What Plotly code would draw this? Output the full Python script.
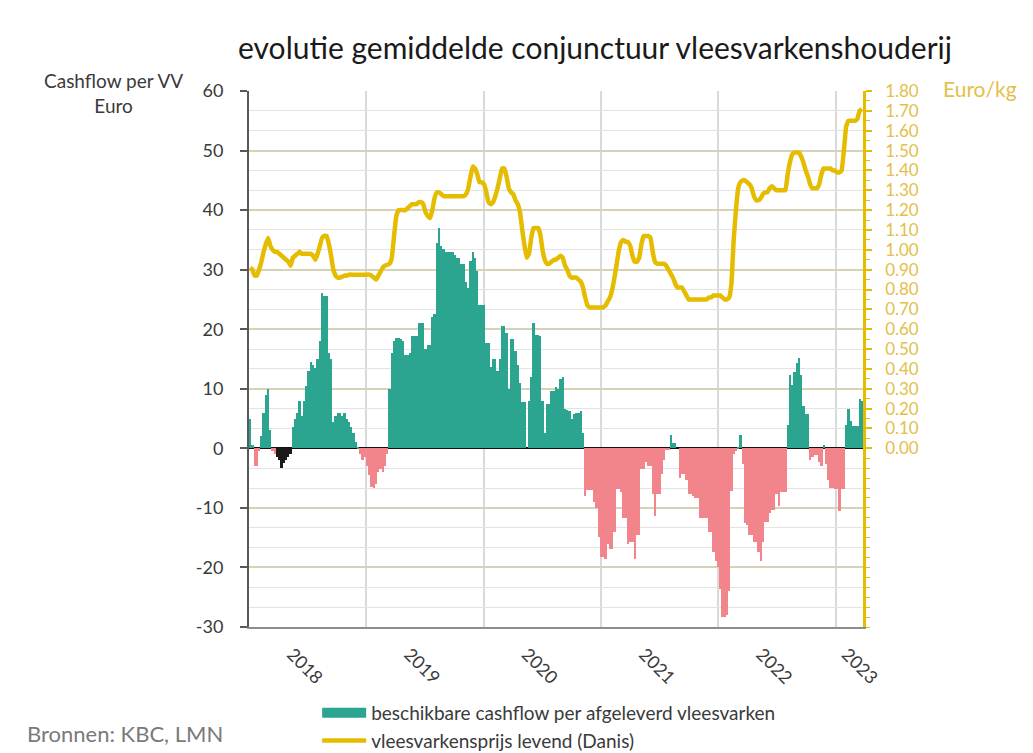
import pandas as pd
import plotly.graph_objects as go

# ---------------- data (weekly) ----------------
cash_2018 = [5, 0.5, -3, -3, -0.5, 2, 6, 9, 10, 3, -0.5, -1, -1.5, -2, -3.3, -2.5, -2, -1.5, -1, 3.5,
             5, 6, 8, 5.5, 8, 10.5, 13, 14.5, 14, 13.5, 15, 18, 26, 25.5, 25.5, 16, 15, 4.5, 5.5, 6,
             6, 5.5, 6, 5, 4.5, 3.5, 2.5, 1, 0.3, -1, -2, -1.5]
cash_2019 = [-3, -4.5, -6.5, -6.6, -6, -4, -3.5, -4, -3, -1, 10, 16, 18, 18.5, 18.5, 18.3,
             18, 15.7, 15.7, 16, 18.9, 18.9, 18.9, 21, 21, 21, 16.6, 17.4, 17.4, 22, 22.5, 34.5,
             37, 34, 33.5, 33, 33, 33, 33, 32.5, 32, 32, 31, 31, 28, 27, 31.4, 33, 32, 29.7, 24, 24]
cash_2020 = [24, 17.7, 17.7, 13.7, 15, 15, 13, 15, 20.6, 20.6, 19.4, 10, 18.4, 18.4, 16.3, 14,
             10.9, 7.7, 7.7, 0, 8, 12, 21, 19, 19, 18.9, 8, 2.6, 7.4, 7.4, 9.7, 9.7, 10.3, 10,
             11.7, 12, 6.6, 6.5, 6.3, 4.9, 5.7, 6, 6, 6.3, 2.6, -8, -7, -7, -7, -9, -10, -14.9]
cash_2021 = [-18.3, -18.3, -18.6, -16, -16.9, -16.9, -14, -6.9, -6.9, -7.4, -11.7, -11.7, -16,
             -15.7, -15.7, -18.6, -14.6, -14.6, -3.4, -3.4, -2.3, -2.9, -2.9, -7.7, -11.4, -7.7,
             -7.7, -4.3, -2, -0.3, -0.3, 2.3, 0.9, 0.9, 0, -4.9, -4.3, -4.3, -5.4, -7.7, -7.7, -8,
             -8.3, -8.3, -11.7, -11.7, -11.7, -11.7, -14, -14, -17.4, -19]
cash_2022 = [-20, -23.7, -28.3, -28.3, -28, -24, -7.1, -0.9, -0.5, 0.3, 2.3, -2.6, -12.6, -12.9,
             -14.6, -14.6, -15.7, -15.7, -17.4, -18.9, -15.7, -12.3, -12.3, -10.9, -10.3, -10.3,
             -7.7, -9.7, -7.4, -7.4, -7.4, 4, 12.3, 10.6, 12.9, 14.3, 15.1, 12.3, 7.1, 5.7, 5.7,
             -2, -1.4, -1.1, -1.1, -2.3, -2.9, 0.6, -2.6, -5.4, -6.6, -6.6]
cash_2023 = [-6.9, -6.9, -10.6, -6.9, -6.9, 4, 6.6, 4.6, 3.7, 3.7, 3.7, 8.3, 8]

price_2018 = [0.91, 0.90, 0.87, 0.87, 0.90, 0.94, 0.99, 1.03, 1.06, 1.02, 1.00, 0.99, 0.99, 0.98,
              0.97, 0.96, 0.95, 0.94, 0.92, 0.96, 0.97, 0.98, 0.99, 0.98, 0.98, 0.98, 0.98, 0.98,
              0.97, 0.95, 0.98, 1.02, 1.06, 1.07, 1.07, 1.03, 0.97, 0.90, 0.87, 0.86, 0.86, 0.865,
              0.87, 0.87, 0.875, 0.875, 0.875, 0.875, 0.875, 0.875, 0.875, 0.875]
price_2019 = [0.875, 0.875, 0.87, 0.86, 0.85, 0.87, 0.89, 0.91, 0.92, 0.925, 0.93, 0.96, 1.07,
              1.17, 1.20, 1.20, 1.20, 1.20, 1.21, 1.22, 1.23, 1.23, 1.23, 1.24, 1.24, 1.23, 1.19,
              1.17, 1.16, 1.20, 1.26, 1.29, 1.29, 1.28, 1.27, 1.27, 1.27, 1.27, 1.27, 1.27, 1.27,
              1.27, 1.27, 1.27, 1.28, 1.31, 1.37, 1.42, 1.41, 1.38, 1.34, 1.34]
price_2020 = [1.33, 1.29, 1.24, 1.23, 1.24, 1.27, 1.31, 1.36, 1.41, 1.41, 1.37, 1.31, 1.29, 1.28,
              1.25, 1.23, 1.19, 1.10, 1.02, 0.96, 0.98, 1.06, 1.11, 1.11, 1.11, 1.08, 1.00, 0.95,
              0.93, 0.93, 0.94, 0.95, 0.95, 0.96, 0.97, 0.96, 0.92, 0.90, 0.87, 0.86, 0.86, 0.86,
              0.85, 0.84, 0.81, 0.76, 0.72, 0.71, 0.71, 0.71, 0.71, 0.71]
price_2021 = [0.71, 0.71, 0.72, 0.74, 0.76, 0.80, 0.86, 0.93, 1.00, 1.04, 1.05, 1.04, 1.04, 1.02,
              0.97, 0.94, 0.94, 0.96, 1.03, 1.07, 1.07, 1.07, 1.06, 0.99, 0.94, 0.93, 0.93, 0.93,
              0.93, 0.92, 0.90, 0.88, 0.86, 0.83, 0.81, 0.81, 0.81, 0.79, 0.77, 0.75, 0.75, 0.75,
              0.75, 0.75, 0.75, 0.75, 0.75, 0.75, 0.76, 0.76, 0.77, 0.77]
price_2022 = [0.77, 0.77, 0.76, 0.75, 0.75, 0.76, 0.83, 1.05, 1.20, 1.31, 1.34, 1.35, 1.35, 1.34,
              1.33, 1.31, 1.27, 1.25, 1.25, 1.26, 1.28, 1.29, 1.29, 1.31, 1.32, 1.31, 1.30, 1.30,
              1.30, 1.30, 1.30, 1.38, 1.44, 1.48, 1.49, 1.49, 1.49, 1.47, 1.44, 1.40, 1.37, 1.33,
              1.31, 1.31, 1.31, 1.33, 1.38, 1.41, 1.41, 1.41, 1.41, 1.40]
price_2023 = [1.40, 1.39, 1.39, 1.40, 1.50, 1.62, 1.65, 1.65, 1.65, 1.65, 1.66, 1.70, 1.71]

year_labels = ["2018", "2019", "2020", "2021", "2022", "2023"]
year_label_dates = ["2018-05-15", "2019-05-15", "2020-05-15", "2021-05-15", "2022-05-15", "2023-02-05"]
year_starts = ["2018-01-01", "2019-01-01", "2020-01-01", "2021-01-01", "2022-01-01", "2023-01-01"]
cash_ticks = [-30, -20, -10, 0, 10, 20, 30, 40, 50, 60]
cash_tick_text = ["-30", "-20", "-10", "0", "10", "20", "30", "40", "50", "60"]
price_ticks = [0.0, 0.1, 0.2, 0.3, 0.4, 0.5, 0.6, 0.7, 0.8, 0.9, 1.0, 1.1, 1.2, 1.3, 1.4, 1.5,
               1.6, 1.7, 1.8]

name_cash = "beschikbare cashflow per afgeleverd vleesvarken"
name_price = "vleesvarkensprijs levend (Danis)"

# ---------------- build ----------------
cashflow = cash_2018 + cash_2019 + cash_2020 + cash_2021 + cash_2022 + cash_2023
price = price_2018 + price_2019 + price_2020 + price_2021 + price_2022 + price_2023
weeks = pd.date_range("2018-01-01", periods=len(cashflow), freq="7D")

TEAL = "#2ba58f"
PINK = "#f2848b"
BLACK = "#1a1a1a"
YELLOW = "#e6bc00"
YLABEL = "#e3c04a"
TXT = "#3a3a3a"

black_from, black_to = pd.Timestamp("2018-03-26"), pd.Timestamp("2018-05-07")
colors = []
for d, v in zip(weeks, cashflow):
    if v < 0 and black_from <= d <= black_to:
        colors.append(BLACK)
    elif v < 0:
        colors.append(PINK)
    else:
        colors.append(TEAL)

week_ms = 7 * 24 * 3600 * 1000

fig = go.Figure()
fig.add_trace(go.Bar(
    x=weeks, y=cashflow, name=name_cash, marker=dict(color=colors, line=dict(width=0)),
    xperiod=week_ms, xperiod0="2018-01-01", xperiodalignment="middle",
    showlegend=False, yaxis="y",
))
fig.add_trace(go.Scatter(
    x=weeks, y=price, name=name_price, mode="lines",
    line=dict(color=YELLOW, width=4.5, shape="spline", smoothing=0.3),
    xperiod=week_ms, xperiod0="2018-01-01", xperiodalignment="middle",
    yaxis="y2", showlegend=True, legendrank=2,
))
# legend swatch for the bars (wide rectangle, like the original)
fig.add_trace(go.Scatter(
    x=[None], y=[None], name=name_cash, mode="lines",
    line=dict(color=TEAL, width=12), yaxis="y", showlegend=True, legendrank=1,
))

# The page adds an 8px body margin, so the figure is 8px smaller and margins shifted.
fig.update_layout(
    width=1025, height=745,
    margin=dict(l=241, r=170, t=83, b=126, autoexpand=False),
    paper_bgcolor="white", plot_bgcolor="white",
    bargap=0,
    font=dict(family="Lato, 'Open Sans', sans-serif", color=TXT, size=18),
    title=dict(text="evolutie gemiddelde conjunctuur vleesvarkenshouderij",
               x=0.5727, xref="container", xanchor="center",
               y=0.946, yref="container", yanchor="middle",
               font=dict(size=30, color="#1a1a1a")),
    xaxis=dict(
        type="date", range=["2018-01-01", "2023-03-27"],
        tickmode="array", tickvals=year_label_dates, ticktext=year_labels,
        tickangle=45, ticks="", showgrid=False, ticklabelstandoff=8,
        tickfont=dict(size=18, color=TXT),
        showline=True, linecolor="#8c8c8c", linewidth=1.5,
        minor=dict(tickmode="array", tickvals=year_starts, showgrid=True,
                   gridcolor="#d9d9d9", gridwidth=1.5, ticks=""),
        zeroline=False,
    ),
    yaxis=dict(
        range=[-30, 60], tickmode="array", tickvals=cash_ticks, ticktext=cash_tick_text,
        ticks="outside", ticklen=7, tickcolor="#595959", tickwidth=1.5,
        ticklabelstandoff=13,
        showline=True, linecolor="#595959", linewidth=2,
        showgrid=True, gridcolor="#d8d2b4", gridwidth=1.5,
        minor=dict(tickmode="linear", tick0=-30, dtick=10 / 3, showgrid=True,
                   gridcolor="#e3e3e3", gridwidth=1.2, ticks=""),
        zeroline=True, zerolinecolor="#111111", zerolinewidth=2,
        tickfont=dict(size=18, color=TXT),
    ),
    yaxis2=dict(
        overlaying="y", side="right", range=[-0.9, 1.8],
        tickmode="array", tickvals=price_ticks, tickformat=".2f",
        ticks="outside", ticklen=6, tickcolor=YELLOW, tickwidth=1.5,
        ticklabelstandoff=10,
        showline=True, linecolor=YELLOW, linewidth=2.5,
        showgrid=False, zeroline=False,
        minor=dict(tickmode="linear", tick0=-0.9, dtick=0.05, ticks="outside",
                   ticklen=4, tickcolor=YELLOW, tickwidth=1.2, showgrid=False),
        tickfont=dict(size=17, color=YLABEL),
    ),
    legend=dict(x=0.111, xanchor="left", y=-0.125, yanchor="top",
                orientation="v", font=dict(size=19, color=TXT),
                traceorder="normal", bgcolor="rgba(0,0,0,0)", itemwidth=44),
    annotations=[
        dict(text="Cashflow per VV<br>Euro", xref="paper", yref="paper",
             x=-0.221, y=0.996, xanchor="center", yanchor="middle", showarrow=False,
             font=dict(size=19, color=TXT), align="center"),
        dict(text="Euro/kg", xref="paper", yref="paper",
             x=1.19, y=1.005, xanchor="center", yanchor="middle", showarrow=False,
             font=dict(size=21, color=YLABEL)),
        dict(text="Bronnen: KBC, LMN", xref="paper", yref="paper",
             x=-0.365, y=-0.198, xanchor="left", yanchor="middle", showarrow=False,
             font=dict(size=22, color="#7a7a7a")),
    ],
)

fig.write_html("out.html")
